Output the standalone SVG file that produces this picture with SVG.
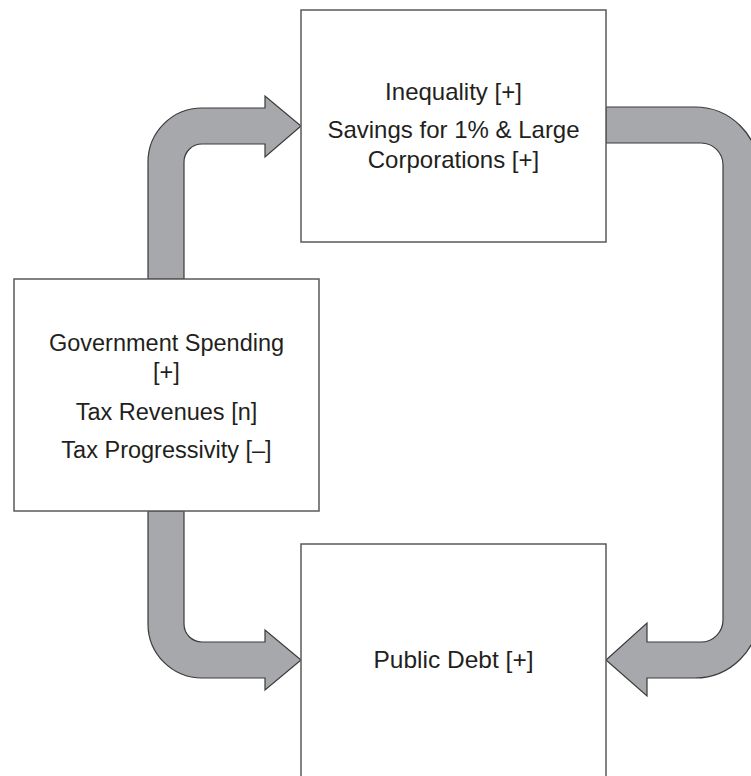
<svg xmlns="http://www.w3.org/2000/svg" width="751" height="776" viewBox="0 0 751 776">
<style>
.box{fill:#fff;stroke:#5a5a5a;stroke-width:1.5}
.arr{fill:#a7a8ab;stroke:#3a3a3a;stroke-width:1.2;stroke-linejoin:miter}
.t{font-family:"Liberation Sans",Arial,sans-serif;font-size:23.5px;fill:#231f20;text-anchor:middle}
.t24{font-size:24px}
.t25{font-size:24.5px}
</style>
<rect width="751" height="776" fill="#fff"/>
<g id="connectors">
<path class="arr" d="M148,279 L148,162 A54,54 0 0 1 202,108 L265,108 L265,96 L301,126 L265,157 L265,144 L202,144 A18,18 0 0 0 184,162 L184,279 Z"/>
<path class="arr" d="M148,511 L148,624 A54,54 0 0 0 202,678 L265,678 L265,690 L301,660 L265,630 L265,642 L202,642 A18,18 0 0 1 184,624 L184,511 Z"/>
<path class="arr" d="M606,107 L695,107 A64,64 0 0 1 759,171 L759,614 A64,64 0 0 1 695,678 L647,678 L647,696 L606,660 L647,623 L647,642 L701,642 A22,22 0 0 0 723,620 L723,165 A22,22 0 0 0 701,143 L606,143 Z"/>
</g>
<g id="inequality">
<rect class="box" x="301" y="10" width="305" height="232"/>
<text class="t t24" x="453.5" y="100">Inequality [+]</text>
<text class="t t24" x="453.5" y="138">Savings for 1% &amp; Large</text>
<text class="t t24" x="453.5" y="168">Corporations [+]</text>
</g>
<g id="government">
<rect class="box" x="14" y="279" width="305" height="232"/>
<text class="t" x="166.5" y="351">Government Spending</text>
<text class="t" x="166.5" y="380">[+]</text>
<text class="t" x="166.5" y="420">Tax Revenues [n]</text>
<text class="t" x="166.5" y="458">Tax Progressivity [–]</text>
</g>
<g id="debt">
<rect class="box" x="301" y="544" width="305" height="245"/>
<text class="t t25" x="453.5" y="668">Public Debt [+]</text>
</g>
</svg>
